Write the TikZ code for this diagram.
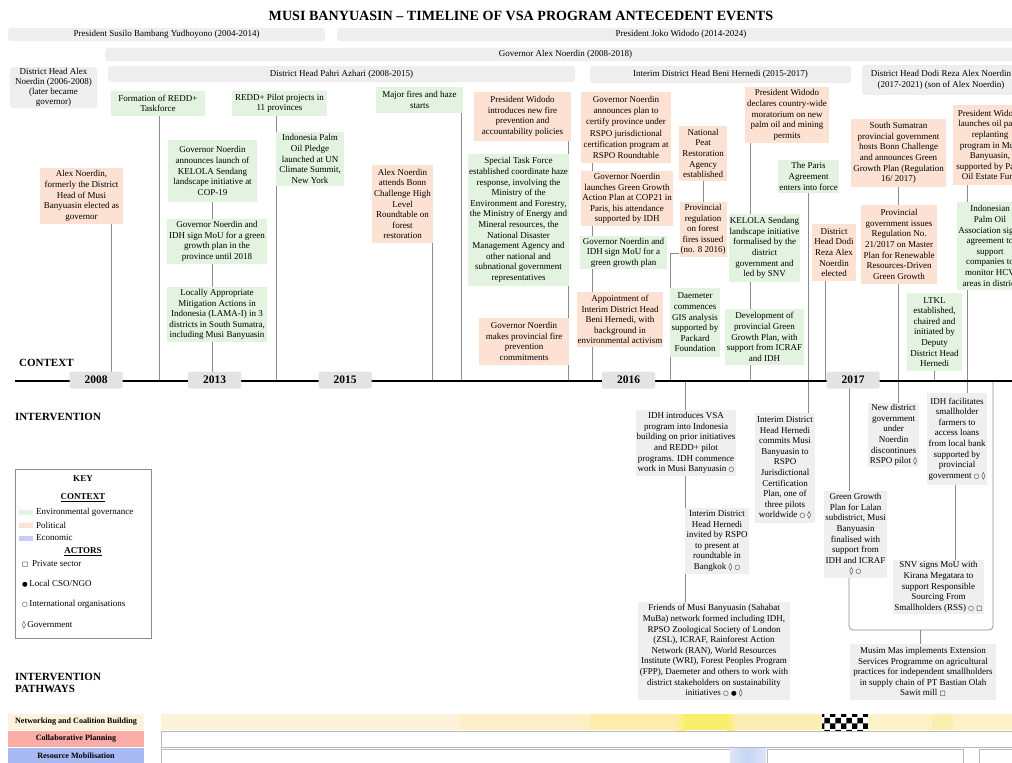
\documentclass[tikz,border=0pt]{standalone}
\usepackage{fontspec}
\setmainfont{Liberation Serif}
\newfontfamily\symfont{DejaVu Sans}
\usetikzlibrary{backgrounds,patterns}
\definecolor{envg}{HTML}{E2F3DF}
\definecolor{polc}{HTML}{FDE2D4}
\definecolor{barg}{HTML}{EEEEEE}
\definecolor{ivg}{HTML}{EFEFEF}
\definecolor{yrg}{HTML}{E3E3E3}
\definecolor{ecoc}{HTML}{C9CCF8}
\definecolor{connc}{HTML}{8C8C8C}
\definecolor{netc}{HTML}{FDF3DC}
\definecolor{colc}{HTML}{FBACA7}
\definecolor{resc}{HTML}{A8B9F3}
\definecolor{yA}{HTML}{FEF3DA}
\definecolor{yB}{HTML}{FDF0C6}
\definecolor{yC}{HTML}{FCEEAA}
\definecolor{yD}{HTML}{F7EF6A}
\definecolor{yE}{HTML}{FDF1C6}
\definecolor{yF}{HTML}{FCEDB0}
\definecolor{blueS}{HTML}{C6D5F5}
\newcommand\sym[1]{{\symfont\fontsize{6.5}{7}\selectfont #1}}
\newcommand\gov{{\symfont\bfseries\fontsize{7.5}{7}\selectfont ◊}}
\newcommand\evbox[7]{%
  \pgfmathsetmacro\evw{#4-#2}%
  \pgfmathsetmacro\evh{#5-#3}%
  \pgfmathsetmacro\evcx{(#2+#4)/2}%
  \pgfmathsetmacro\evcy{(#3+#5)/2}%
  \node[#6, minimum width=\evw pt, minimum height=\evh pt] (#1) at (\evcx,\evcy) {#7};%
}
\tikzset{
  txt/.style={font=\fontsize{9}{10.6}\selectfont, align=center, inner sep=1pt},
  envbox/.style={txt, fill=envg},
  polbox/.style={txt, fill=polc},
  ivbox/.style={txt, fill=ivg},
  hdrbar/.style={txt, fill=barg, rounded corners=3pt},
  conn/.style={draw=connc, line width=0.7pt},
  yearbox/.style={fill=yrg, rounded corners=2pt, minimum width=53pt, minimum height=17pt, inner sep=0pt, font=\bfseries\fontsize{11.5}{12}\selectfont},
  seclbl/.style={font=\bfseries\fontsize{11}{12.5}\selectfont, anchor=west, inner sep=0pt, align=left},
  keytxt/.style={font=\fontsize{9}{10}\selectfont, anchor=west, inner sep=0pt},
  keyhd/.style={font=\bfseries\fontsize{9}{10}\selectfont, inner sep=0pt},
  pathlbl/.style={font=\bfseries\fontsize{8.1}{9}\selectfont, inner sep=0pt},
}
\begin{document}
\begin{tikzpicture}[x=1pt,y=-1pt]
\useasboundingbox (0,0) rectangle (1012,763);
\clip (0,0) rectangle (1012,763);

% title
\node[font=\bfseries\fontsize{14.1}{16}\selectfont, inner sep=0pt] (title) at (521,16) {MUSI BANYUASIN – TIMELINE OF VSA PROGRAM ANTECEDENT EVENTS};

% header bars
\evbox{sby}{8}{28}{325}{41}{hdrbar}{President Susilo Bambang Yudhoyono (2004-2014)}
\evbox{joko}{337}{28}{1025}{41}{hdrbar}{President Joko Widodo (2014-2024)}
\evbox{govbar}{105}{48}{1026}{61}{hdrbar}{Governor Alex Noerdin (2008-2018)}
\evbox{alexdh}{10}{67}{97}{108}{hdrbar, font=\fontsize{9}{10}\selectfont}{District Head Alex\\Noerdin (2006-2008)\\(later became\\governor)}
\evbox{pahri}{108}{66}{575}{82}{hdrbar}{District Head Pahri Azhari (2008-2015)}
\evbox{interim}{590}{66}{851}{83}{hdrbar}{Interim District Head Beni Hernedi (2015-2017)}
\evbox{dodihd}{862}{65}{1020}{95}{hdrbar}{District Head Dodi Reza Alex Noerdin\\(2017-2021) (son of Alex Noerdin)}

% context events
\evbox{formation}{111}{91}{205}{116}{envbox}{Formation of REDD+\\Taskforce}
\evbox{pilot}{232}{91}{327}{116}{envbox}{REDD+ Pilot projects in\\11 provinces}
\evbox{alexgov}{40}{168}{123}{224}{polbox}{Alex Noerdin,\\formerly the District\\Head of Musi\\Banyuasin elected as\\governor}
\evbox{kelola}{168}{140}{257}{202}{envbox}{Governor Noerdin\\announces launch of\\KELOLA Sendang\\landscape initiative at\\COP-19}
\evbox{mou1}{167}{219}{267}{264}{envbox}{Governor Noerdin and\\IDH sign MoU for a green\\growth plan in the\\province until 2018}
\evbox{lama}{167}{287}{267}{342}{envbox}{Locally Appropriate\\Mitigation Actions in\\Indonesia (LAMA-I) in 3\\districts in South Sumatra,\\including Musi Banyuasin}
\evbox{pledge}{276}{132}{344}{186}{envbox}{Indonesia Palm\\Oil Pledge\\launched at UN\\Climate Summit,\\New York}
\evbox{fires}{376}{87}{463}{113}{envbox}{Major fires and haze\\starts}
\evbox{bonn}{372}{165}{433}{243}{polbox}{Alex Noerdin\\attends Bonn\\Challenge High\\Level\\Roundtable on\\forest\\restoration}
\evbox{widodoa}{474}{92}{571}{141}{polbox}{President Widodo\\introduces new fire\\prevention and\\accountability policies}
\evbox{stf}{468}{154}{569}{286}{envbox}{Special Task Force\\established coordinate haze\\response, involving the\\Ministry of the\\Environment and Forestry,\\the Ministry of Energy and\\Mineral resources, the\\National Disaster\\Management Agency and\\other national and\\subnational government\\representatives}
\evbox{govfire}{479}{318}{569}{365}{polbox}{Governor Noerdin\\makes provincial fire\\prevention\\commitments}
\evbox{rspo}{581}{92}{671}{163}{polbox, font=\fontsize{9}{11.3}\selectfont}{Governor Noerdin\\announces plan to\\certify province under\\RSPO jurisdictional\\certification program at\\RSPO Roundtable}
\evbox{cop}{581}{171}{673}{226}{polbox}{Governor Noerdin\\launches Green Growth\\Action Plan at COP21 in\\Paris, his attendance\\supported by IDH}
\evbox{moub}{580}{236}{667}{269}{envbox}{Governor Noerdin and\\IDH sign MoU for a\\green growth plan}
\evbox{appoint}{577}{292}{663}{347}{polbox}{Appointment of\\Interim District Head\\Beni Hernedi, with\\background in\\environmental activism}
\evbox{peat}{679}{126}{727}{181}{polbox}{National\\Peat\\Restoration\\Agency\\established}
\evbox{provreg}{680}{202}{726}{257}{polbox}{Provincial\\regulation\\on forest\\fires issued\\(no. 8 2016)}
\evbox{daemeter}{670}{288}{720}{357}{envbox}{Daemeter\\commences\\GIS analysis\\supported by\\Packard\\Foundation}
\evbox{moratorium}{745}{87}{829}{143}{polbox}{President Widodo\\declares country-wide\\moratorium on new\\palm oil and mining\\permits}
\evbox{kelolasnv}{729}{214}{800}{282}{envbox}{KELOLA Sendang\\landscape initiative\\formalised by the\\district\\government and\\led by SNV}
\evbox{devgg}{725}{309}{804}{365}{envbox}{Development of\\provincial Green\\Growth Plan, with\\support from ICRAF\\and IDH}
\evbox{paris}{778}{160}{839}{193}{envbox}{The Paris\\Agreement\\enters into force}
\evbox{dodi}{812}{224}{856}{281}{polbox}{District\\Head Dodi\\Reza Alex\\Noerdin\\elected}
\evbox{southsum}{851}{119}{946}{187}{polbox}{South Sumatran\\provincial government\\hosts Bonn Challenge\\and announces Green\\Growth Plan (Regulation\\16/ 2017)}
\evbox{regb}{861}{205}{937}{284}{polbox}{Provincial\\government issues\\Regulation No.\\21/2017 on Master\\Plan for Renewable\\Resources-Driven\\Green Growth}
\evbox{ltkl}{907}{293}{962}{371}{envbox}{LTKL\\established,\\chaired and\\initiated by\\Deputy\\District Head\\Hernedi}
\evbox{replant}{953}{105}{1027}{185}{polbox}{President Widodo\\launches oil palm\\replanting\\program in Musi\\Banyuasin,\\supported by Palm\\Oil Estate Fund}
\evbox{ipoa}{957}{202}{1023}{290}{envbox}{Indonesian\\Palm Oil\\Association signs\\agreement to\\support\\companies to\\monitor HCV\\areas in district}

% intervention events
\evbox{ia}{636}{410}{736}{476}{ivbox}{IDH introduces VSA\\program into Indonesia\\building on prior initiatives\\and REDD+ pilot\\programs. IDH commence\\work in Musi Banyuasin \sym{○}}
\evbox{ib}{685}{508}{749}{574}{ivbox}{Interim District\\Head Hernedi\\invited by RSPO\\to present at\\roundtable in\\Bangkok \gov\ \sym{○}}
\evbox{ic}{638}{602}{790}{700}{ivbox}{Friends of Musi Banyuasin (Sahabat\\MuBa) network formed including IDH,\\RPSO Zoological Society of London\\(ZSL), ICRAF, Rainforest Action\\Network (RAN), World Resources\\Institute (WRI), Forest Peoples Program\\(FPP), Daemeter and others to work with\\district stakeholders on sustainability\\initiatives \sym{○} \sym{●} \gov}
\evbox{id}{755}{413}{815}{523}{ivbox}{Interim District\\Head Hernedi\\commits Musi\\Banyuasin to\\RSPO\\Jurisdictional\\Certification\\Plan, one of\\three pilots\\worldwide \sym{○} \gov}
\evbox{ie}{824}{491}{887}{578}{ivbox}{Green Growth\\Plan for Lalan\\subdistrict, Musi\\Banyuasin\\finalised with\\support from\\IDH and ICRAF\\\gov\ \sym{○}}
\evbox{iff}{868}{403}{919}{467}{ivbox}{New district\\government\\under\\Noerdin\\discontinues\\RSPO pilot \gov}
\evbox{ig}{927}{393}{987}{485}{ivbox}{IDH facilitates\\smallholder\\farmers to\\access loans\\from local bank\\supported by\\provincial\\government \sym{○} \gov}
\evbox{ih}{893}{560}{984}{614}{ivbox}{SNV signs MoU with\\Kirana Megatara to\\support Responsible\\Sourcing From\\Smallholders (RSS) \sym{○} \sym{□}}
\evbox{ii}{850}{644}{996}{700}{ivbox}{Musim Mas implements Extension\\Services Programme on agricultural\\practices for independent smallholders\\in supply chain of PT Bastian Olah\\Sawit mill \sym{□}}

% axis coordinates
\coordinate (axL) at (15,381);
\coordinate (axR) at (1012,381);
\foreach \xx in {111,159,212,276,432,461,568,592,670,685,750,808,825,849,898,934,955,967,993}{
  \coordinate (a\xx) at (\xx,381);
}
\coordinate (brM) at (920,630);

% connectors
\begin{pgfonlayer}{background}
  \draw[conn] (alexgov.south -| a111) -- (a111);
  \draw[conn] (formation.south -| a159) -- (a159);
  \draw[conn] (kelola.south -| a212) -- (mou1.north -| a212);
  \draw[conn] (mou1.south -| a212) -- (lama.north -| a212);
  \draw[conn] (lama.south -| a212) -- (a212);
  \draw[conn] (pilot.south -| a276) -- (a276);
  \draw[conn] (bonn.south -| a432) -- (a432);
  \draw[conn] (fires.south -| a461) -- (a461);
  \draw[conn] (widodoa.south -| a568) -- (stf.north -| a568);
  \draw[conn] (stf.south -| a568) -- (govfire.north -| a568);
  \draw[conn] (govfire.south -| a568) -- (a568);
  \draw[conn] (rspo.south -| a592) -- (cop.north -| a592);
  \draw[conn] (cop.south -| a592) -- (moub.north -| a592);
  \draw[conn] (moub.south -| a592) -- (appoint.north -| a592);
  \draw[conn] (appoint.south -| a592) -- (a592);
  \draw[conn] (peat.south) -- (provreg.north);
  \draw[conn] ([yshift=4pt]provreg.south west) -| (a670);
  \draw[conn] (moratorium.south -| a750) -- (a750);
  \draw[conn] (paris.south -| a808) -- (a808);
  \draw[conn] (dodi.south -| a825) -- (a825);
  \draw[conn] (southsum.south -| a898) -- (regb.north -| a898);
  \draw[conn] (regb.south -| a898) -- (a898);
  \draw[conn] (ltkl.south -| a934) -- (a934);
  \draw[conn] (replant.south -| a967) -- (ipoa.north -| a967);
  \draw[conn] (ipoa.south -| a967) -- (a967);
  % intervention
  \draw[conn] (a685) -- (ia.north -| a685);
  \draw[conn] (ia.south -| a685) -- (ic.north -| a685);
  \draw[conn] (a808) -- (id.north -| a808);
  \draw[conn] (a849) -- (ie.north -| a849);
  \draw[conn] (a898) -- (iff.north -| a898);
  \draw[conn] (a967) -- (ig.north -| a967);
  \draw[conn] (ig.south -| a955) -- (ih.north -| a955);
  \draw[conn, rounded corners=4pt] (ie.south -| a849) |- (brM) -| (a993);
  \draw[conn] (brM) -- (ii.north -| brM);
\end{pgfonlayer}

% axis and years
\draw[line width=2.6pt] (axL) -- (axR);
\node[yearbox] (y2008) at (96,380) {2008};
\node[yearbox] (y2013) at (214.5,380) {2013};
\node[yearbox] (y2015) at (345,380) {2015};
\node[yearbox] (y2016) at (628.5,380) {2016};
\node[yearbox] (y2017) at (853,380) {2017};

% section labels
\node[seclbl] (lctx) at (19,363) {CONTEXT};
\node[seclbl] (lint) at (15,417) {INTERVENTION};
\node[seclbl] (lpath) at (15,683) {INTERVENTION\\PATHWAYS};

% key
\node[draw=gray!90, line width=0.6pt, minimum width=136pt, minimum height=169pt, inner sep=0pt] (keybox) at (83,553.5) {};
\node[keyhd] (kkey) at (83,479) {KEY};
\node[keyhd] (kctx) at (83,498) {\underline{CONTEXT}};
\node[fill=envg, minimum width=14pt, minimum height=5pt, inner sep=0pt] (sw1) at (26,512) {};
\node[keytxt] (k1) at (36,512) {Environmental governance};
\node[fill=polc, minimum width=14pt, minimum height=5pt, inner sep=0pt] (sw2) at (26,525) {};
\node[keytxt] (k2) at (36,525) {Political};
\node[fill=ecoc, minimum width=14pt, minimum height=5pt, inner sep=0pt] (sw3) at (26,538) {};
\node[keytxt] (k3) at (36,538) {Economic};
\node[keyhd] (kact) at (83,552) {\underline{ACTORS}};
\node[keytxt] (k4) at (22,564) {\sym{□}\, Private sector};
\node[keytxt] (k5) at (22,584) {\sym{●}\,Local CSO/NGO};
\node[keytxt] (k6) at (22,604) {\sym{○}\,International organisations};
\node[keytxt] (k7) at (22,625) {\gov\,Government};

% pathways
\evbox{pnet}{8}{714}{144}{730}{pathlbl, fill=netc}{Networking and Coalition Building}
\evbox{pcol}{8}{731}{144}{747}{pathlbl, fill=colc}{Collaborative Planning}
\evbox{pres}{8}{748}{144}{764}{pathlbl, fill=resc}{Resource Mobilisation}

\fill[yA] (161,714) rectangle (460,730);
\fill[yB] (460,714) rectangle (590,730);
\fill[yC] (590,714) rectangle (676,730);
\shade[left color=yC, right color=yD] (675,714) rectangle (686,730);
\fill[yD] (685,714) rectangle (728,730);
\shade[left color=yD, right color=yF] (727,714) rectangle (736,730);
\fill[yF] (735,714) rectangle (822,730);
\fill[white] (822,714) rectangle (868,730);
\fill[pattern=checkerboard, pattern color=black] (822,714) rectangle (868,730);
\fill[yE] (868,714) rectangle (932,730);
\fill[yF] (932,714) rectangle (953,730);
\fill[yE] (953,714) rectangle (1012,730);

\draw[gray!55, line width=0.8pt, fill=white] (161,731) rectangle (1016,747);
\draw[gray!55, line width=0.8pt, fill=white] (161,749) rectangle (730,767);
\shade[left color=blueS!60, right color=blueS!60, middle color=blueS] (730,748) rectangle (766,767);
\draw[gray!55, line width=0.8pt, fill=white] (767,749) rectangle (963,767);
\draw[gray!55, line width=0.8pt, fill=white] (979,749) rectangle (1016,767);
\end{tikzpicture}
\end{document}
